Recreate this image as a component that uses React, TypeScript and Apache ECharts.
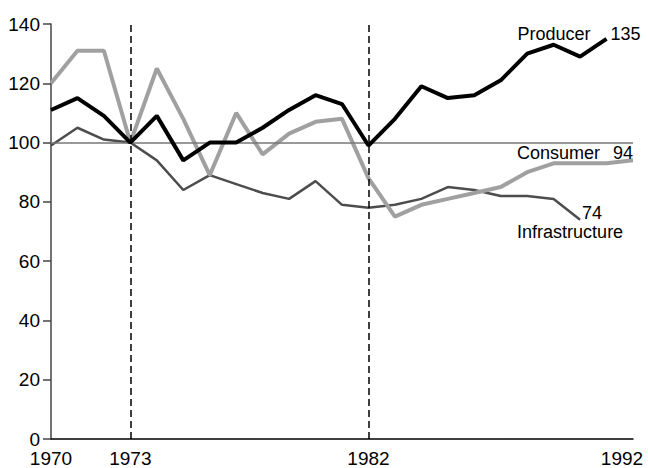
import React, { useEffect, useRef } from "react";
import * as echarts from "echarts";

const years = [1970,1971,1972,1973,1974,1975,1976,1977,1978,1979,1980,1981,1982,1983,1984,1985,1986,1987,1988,1989,1990,1991,1992];
const producer = [111,115,109,100,109,94,100,100,105,111,116,113,99,108,119,115,116,121,130,133,129,135];
const consumer = [120,131,131,100,125,108,89,110,96,103,107,108,88,75,79,81,83,85,90,93,93,93,94];
const infrastructure = [99,105,101,100,94,84,89,86,83,81,87,79,78,79,81,85,84,82,82,81,74];
const xTickLabels = [1970, 1973, 1982, 1992];
const eventYears = [1973, 1982];
const baseline = 100;

const FONT = "'Liberation Sans', Arial, Helvetica, sans-serif";

export default function App() {
  const ref = useRef<HTMLDivElement>(null);
  useEffect(() => {
    document.body.style.margin = "0";
    if (!ref.current) return;
    const chart = echarts.init(ref.current, null, { renderer: "svg" });
    const pairs = (vals: number[]) => vals.map((v, i) => [years[i], v]);
    chart.setOption({
      animation: false,
      grid: { left: 51, right: 15, top: 24, bottom: 29, containLabel: false, outerBoundsMode: "none" },
      xAxis: {
        type: "value",
        min: 1970,
        max: 1992,
        interval: 1,
        splitLine: { show: false },
        axisTick: { show: false },
        axisLine: { show: true, lineStyle: { color: "#000", width: 1.5 } },
        axisLabel: {
          margin: 12,
          fontSize: 19,
          lineHeight: 15,
          fontFamily: FONT,
          color: "#000",
          formatter: (v: number) => {
            if (!xTickLabels.includes(v)) return "";
            if (v === 1992) return "{r|" + v + "}";
            return String(v);
          },
          rich: { r: { fontSize: 19, lineHeight: 15, fontFamily: FONT, color: "#000", padding: [0, 22, 0, 0] } },
        },
      },
      yAxis: {
        type: "value",
        min: 0,
        max: 140,
        interval: 20,
        splitLine: { show: false },
        axisLine: { show: true, lineStyle: { color: "#444", width: 1.5 } },
        axisTick: { show: true, length: 8, lineStyle: { color: "#444", width: 1.5 } },
        axisLabel: { margin: 11, fontSize: 19, lineHeight: 15, fontFamily: FONT, color: "#000" },
      },
      series: [
        {
          type: "line",
          name: "Infrastructure",
          data: pairs(infrastructure),
          showSymbol: false,
          symbol: "none",
          lineStyle: { color: "#4d4d4d", width: 2.5 },
          z: 3,
          markLine: {
            silent: true,
            symbol: "none",
            label: { show: false },
            data: [
              { yAxis: baseline, lineStyle: { color: "#777", width: 1.5, type: "solid" } },
              ...eventYears.map((y) => ({ xAxis: y, lineStyle: { color: "#000", width: 1.5, type: [7, 4] } })),
            ],
          },
        },
        {
          type: "line",
          name: "Consumer",
          data: pairs(consumer),
          showSymbol: false,
          symbol: "none",
          lineStyle: { color: "#a0a0a0", width: 4 },
          z: 4,
        },
        {
          type: "line",
          name: "Producer",
          data: pairs(producer),
          showSymbol: false,
          symbol: "none",
          lineStyle: { color: "#000", width: 4 },
          z: 5,
        },
      ],
    });

    const last = (vals: number[]) => chart.convertToPixel({ gridIndex: 0 }, [years[vals.length - 1], vals[vals.length - 1]]) as number[];
    const p = last(producer);
    const c = last(consumer);
    const inf = last(infrastructure);
    const txt = (text: string, x: number, y: number, align: string) => ({
      type: "text",
      x,
      y,
      style: { text, fontSize: 18, lineHeight: 14, fontFamily: FONT, fill: "#000", align, verticalAlign: "middle", textAlign: align, textVerticalAlign: "middle" },
      z: 10,
    });
    chart.setOption({
      graphic: [
        txt("Producer", p[0] - 16, p[1] - 5, "right"),
        txt(String(producer[producer.length - 1]), p[0] + 4, p[1] - 5, "left"),
        txt("Consumer", c[0] - 33, c[1] - 7, "right"),
        txt(String(consumer[consumer.length - 1]), c[0], c[1] - 7, "right"),
        txt(String(infrastructure[infrastructure.length - 1]), inf[0] + 2, inf[1] - 7, "left"),
        txt("Infrastructure", inf[0] - 63, inf[1] + 12, "left"),
      ],
    });
    return () => chart.dispose();
  }, []);
  return <div ref={ref} style={{ width: 648, height: 468 }} />;
}
